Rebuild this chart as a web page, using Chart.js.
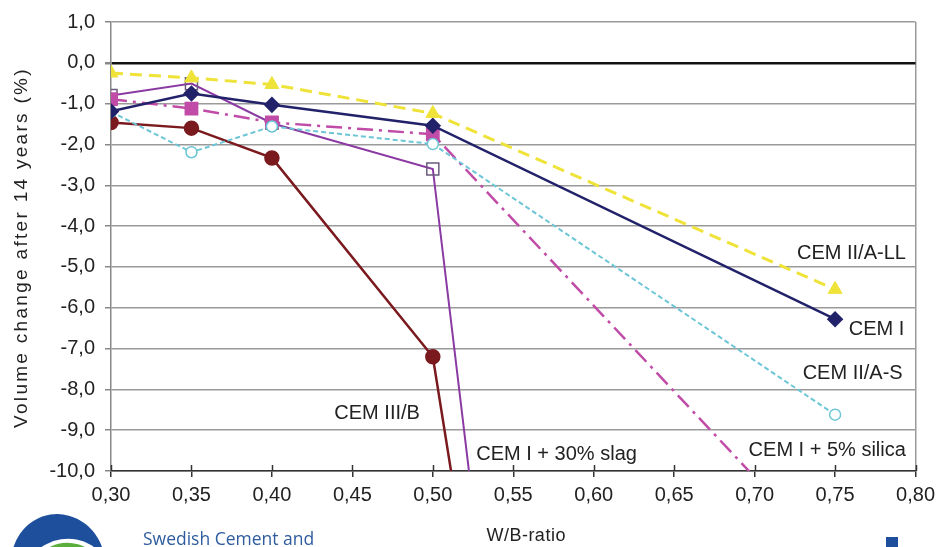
<!DOCTYPE html>
<html>
<head>
<meta charset="utf-8">
<script src="https://cdn.jsdelivr.net/npm/chart.js@4/dist/chart.umd.min.js"></script>
<style>
  html, body { margin: 0; padding: 0; background: #fff; }
  #wrap { width: 941px; height: 547px; }
</style>
</head>
<body>
<div id="wrap"><canvas id="chart" width="941" height="547"></canvas></div>
<script>
// W/B-ratio of the mixes
const wbRatio = [0.30, 0.35, 0.40, 0.50, 0.75];

// volume change after 14 years (%), one list per binder
const cemIIALL = [-0.25, -0.37, -0.53, -1.24, -5.55];
const cemI = [-1.19, -0.75, -1.03, -1.54, -6.28];
const cemIIAS = [-1.2, -2.19, -1.56, -1.99, -8.62];
const cemISilica = [-0.89, -1.12, -1.46, -1.75, -12.25];
const cemISlag = [-0.8, -0.51, -1.48, -2.6, -85];
const cemIIIB = [-1.46, -1.6, -2.33, -7.2, -69];

const xTicks = [0.30, 0.35, 0.40, 0.45, 0.50, 0.55, 0.60, 0.65, 0.70, 0.75, 0.80];
const yTicks = [1, 0, -1, -2, -3, -4, -5, -6, -7, -8, -9, -10];

// text labels next to the curves, in data units
const curveNames = ['CEM II/A-LL', 'CEM I', 'CEM II/A-S', 'CEM I + 5% silica', 'CEM III/B', 'CEM I + 30% slag'];
const nameX = [0.794, 0.793, 0.792, 0.794, 0.4388, 0.527];
const nameY = [-4.68, -6.54, -7.6, -9.5, -8.6, -9.59];
const nameAlign = ['right', 'right', 'right', 'right', 'left', 'left'];

const FONT = 'Liberation Sans, Arial, sans-serif';

const makeSeries = (values) => wbRatio.map((x, i) => ({ x, y: values[i] }));

const extras = {
  id: 'extras',
  afterDraw(chart) {
    const { ctx, chartArea } = chart;
    const xs = chart.scales.x;
    const ys = chart.scales.y;
    ctx.save();

    // upper half of the cross ticks on the x axis
    ctx.strokeStyle = '#333';
    ctx.lineWidth = 1.5;
    const axisY = ys.getPixelForValue(-10);
    xTicks.forEach((v) => {
      const px = Math.round(xs.getPixelForValue(v)) + 0.5;
      ctx.beginPath();
      ctx.moveTo(px, axisY - 6);
      ctx.lineTo(px, axisY);
      ctx.stroke();
    });

    // curve names
    ctx.fillStyle = '#222';
    ctx.font = '20px ' + FONT;
    ctx.textBaseline = 'middle';
    curveNames.forEach((name, i) => {
      ctx.textAlign = nameAlign[i];
      ctx.fillText(name, xs.getPixelForValue(nameX[i]), ys.getPixelForValue(nameY[i]));
    });

    // axis titles
    ctx.font = '18px ' + FONT;
    ctx.textAlign = 'center';
    ctx.letterSpacing = '0.5px';
    ctx.fillText('W/B-ratio', xs.getPixelForValue(0.558), 536);

    ctx.save();
    ctx.translate(22, (chartArea.top + chartArea.bottom) / 2 + 1);
    ctx.rotate(-Math.PI / 2);
    ctx.font = '19px ' + FONT;
    ctx.letterSpacing = '2.3px';
    ctx.fillText('Volume change after 14 years (%)', 0, 0);
    ctx.restore();
    ctx.letterSpacing = '0px';

    // logo at the bottom
    ctx.fillStyle = '#1d4f9c';
    ctx.beginPath();
    ctx.ellipse(58, 564, 47, 50, -0.15, Math.PI, 2 * Math.PI);
    ctx.ellipse(66, 572, 40, 33, -0.15, 2 * Math.PI, Math.PI, true);
    ctx.fill();
    ctx.strokeStyle = '#5aae3c';
    ctx.lineWidth = 6;
    ctx.beginPath();
    ctx.ellipse(66, 576, 34, 30, -0.15, Math.PI * 1.15, Math.PI * 1.8);
    ctx.stroke();

    ctx.fillStyle = '#2e5c9e';
    ctx.font = '17.5px "Open Sans", sans-serif';
    ctx.textAlign = 'left';
    ctx.textBaseline = 'alphabetic';
    ctx.fillText('Swedish Cement and', 143, 545);

    ctx.fillStyle = '#1d4f9c';
    ctx.fillRect(886, 537, 12, 10);
    ctx.restore();
  },
};

new Chart(document.getElementById('chart'), {
  type: 'line',
  data: {
    datasets: [
      {
        label: 'CEM II/A-LL',
        data: makeSeries(cemIIALL),
        borderColor: '#efe33a',
        backgroundColor: '#efe33a',
        borderWidth: 3,
        borderDash: [12, 7],
        pointStyle: 'triangle',
        pointRadius: 8,
        pointBorderWidth: 1,
      },
      {
        label: 'CEM I',
        data: makeSeries(cemI),
        borderColor: '#22226a',
        backgroundColor: '#22226a',
        borderWidth: 2.5,
        pointStyle: 'rectRot',
        pointRadius: 6.5,
      },
      {
        label: 'CEM II/A-S',
        data: makeSeries(cemIIAS),
        borderColor: '#6cc6d6',
        backgroundColor: '#ffffff',
        borderWidth: 2,
        borderDash: [5, 3],
        pointStyle: 'circle',
        pointRadius: 5.5,
        pointBorderWidth: 1.5,
      },
      {
        label: 'CEM I + 5% silica',
        data: makeSeries(cemISilica),
        borderColor: '#c04ca8',
        backgroundColor: '#c04ca8',
        borderWidth: 2.5,
        borderDash: [16, 6, 3, 6],
        pointStyle: 'rect',
        pointRadius: 8,
      },
      {
        label: 'CEM I + 30% slag',
        data: makeSeries(cemISlag),
        borderColor: '#8a3aa2',
        backgroundColor: 'rgba(255,255,255,0)',
        pointBorderColor: '#6a5a7c',
        borderWidth: 2,
        pointStyle: 'rect',
        pointRadius: 8.5,
        pointBorderWidth: 1.5,
      },
      {
        label: 'CEM III/B',
        data: makeSeries(cemIIIB),
        borderColor: '#7a1a1e',
        backgroundColor: '#7a1a1e',
        borderWidth: 2.5,
        pointStyle: 'circle',
        pointRadius: 6.5,
      },
    ],
  },
  options: {
    responsive: false,
    animation: false,
    devicePixelRatio: 1,
    layout: { padding: { top: 8, right: 23, left: 0, bottom: 0 } },
    plugins: {
      legend: { display: false },
      tooltip: { enabled: false },
    },
    scales: {
      x: {
        type: 'linear',
        min: 0.3,
        max: 0.8,
        afterBuildTicks: (scale) => { scale.ticks = xTicks.map((v) => ({ value: v })); },
        afterFit: (scale) => { scale.height = 76; },
        ticks: {
          autoSkip: false,
          maxRotation: 0,
          padding: 6,
          color: '#222',
          font: { size: 20, family: FONT },
          callback: (v) => Number(v).toFixed(2).replace('.', ','),
        },
        grid: {
          color: (c) => (c.tick && Math.abs(c.tick.value - 0.8) < 1e-6 ? '#9a9a9a' : 'rgba(0,0,0,0)'),
          lineWidth: 1.5,
          tickColor: '#333',
          tickLength: 6,
        },
        border: { color: '#333', width: 1.5 },
      },
      y: {
        min: -10,
        max: 1,
        afterBuildTicks: (scale) => { scale.ticks = yTicks.map((v) => ({ value: v })); },
        afterFit: (scale) => { scale.width = 111; },
        ticks: {
          padding: 10,
          color: '#222',
          font: { size: 20, family: FONT },
          callback: (v) => Number(v).toFixed(1).replace('.', ','),
        },
        grid: {
          color: (c) => (c.tick && c.tick.value === 0 ? '#111' : '#9a9a9a'),
          lineWidth: (c) => (c.tick && c.tick.value === 0 ? 2.5 : 1.5),
          tickColor: '#888',
          tickLength: 6,
        },
        border: { color: '#888', width: 1.5 },
      },
    },
  },
  plugins: [extras],
});
</script>
</body>
</html>
